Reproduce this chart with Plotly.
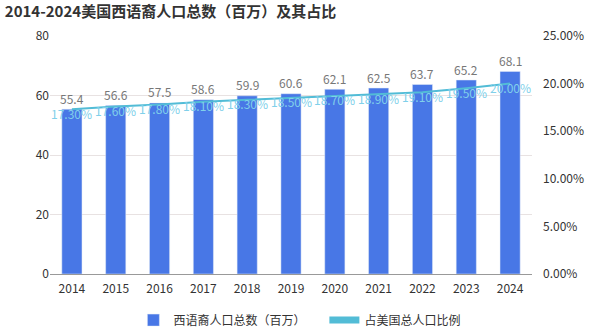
import plotly.graph_objects as go

years = ["2014", "2015", "2016", "2017", "2018", "2019", "2020", "2021", "2022", "2023", "2024"]
population = [55.4, 56.6, 57.5, 58.6, 59.9, 60.6, 62.1, 62.5, 63.7, 65.2, 68.1]
share_pct = [17.30, 17.60, 17.80, 18.10, 18.30, 18.50, 18.70, 18.90, 19.10, 19.50, 20.00]

bar_color = "#4877e6"
line_color = "#52bcd6"
pct_text_color = "#80d0ea"
font_family = "Noto Sans CJK SC, Noto Sans, sans-serif"

fig = go.Figure()

fig.add_trace(go.Bar(
    x=years, y=population,
    name="西语裔人口总数（百万）",
    marker_color=bar_color,
    width=0.46,
))

fig.add_trace(go.Scatter(
    x=years, y=[v / 100 for v in share_pct],
    yaxis="y2",
    mode="lines",
    line=dict(color=line_color, width=2),
    showlegend=False,
    cliponaxis=False,
))

# legend-only entry for the share line, drawn as a thick swatch
fig.add_trace(go.Scatter(
    x=[None], y=[None], yaxis="y2",
    mode="lines",
    line=dict(color=line_color, width=7),
    name="占美国总人口比例",
))

# annotations on a category axis are placed by category index
annotations = []
# value labels above each bar
for i, v in enumerate(population):
    annotations.append(dict(
        x=i, y=v, xref="x", yref="y",
        text=f"{v:.1f}", showarrow=False,
        yanchor="middle", yshift=11,
        font=dict(size=12, color="#777777"),
    ))
# share labels centred on the line
for i, p in enumerate(share_pct):
    annotations.append(dict(
        x=i, y=p / 100, xref="x", yref="y2",
        text=f"{p:.2f}%", showarrow=False,
        yanchor="middle", yshift=-4,
        font=dict(size=12, color=pct_text_color),
    ))

fig.update_layout(
    width=600, height=330,
    margin=dict(l=50, r=68, t=36, b=56, autoexpand=False),
    paper_bgcolor="white",
    plot_bgcolor="white",
    font=dict(family=font_family, size=12, color="#333333"),
    title=dict(
        text="<b>2014-2024美国西语裔人口总数（百万）及其占比</b>",
        x=0.008, xanchor="left", y=0.965, yanchor="middle",
        font=dict(size=15, color="#333333", family=font_family),
    ),
    bargap=0.54,
    annotations=annotations,
    xaxis=dict(
        type="category",
        range=[-0.5, len(years) - 0.5],
        showline=True, linecolor="#999999", linewidth=1,
        ticks="", tickfont=dict(size=12, color="#333333"),
        ticklabelstandoff=4,
    ),
    yaxis=dict(
        range=[0, 80], dtick=20,
        showgrid=True, gridcolor="#e8e2e2",
        zeroline=False, ticks="",
        tickfont=dict(size=12, color="#333333"),
    ),
    yaxis2=dict(
        range=[0, 0.25], dtick=0.05, tickformat=".2%",
        overlaying="y", side="right",
        showgrid=False, zeroline=False, ticks="",
        tickfont=dict(size=12, color="#333333"),
        ticklabelstandoff=10,
    ),
    legend=dict(
        orientation="h", x=0.173, xanchor="left",
        yref="container", y=0.03, yanchor="middle",
        font=dict(size=12, color="#333333"),
        entrywidth=146,
    ),
)

fig.write_html("out.html")
